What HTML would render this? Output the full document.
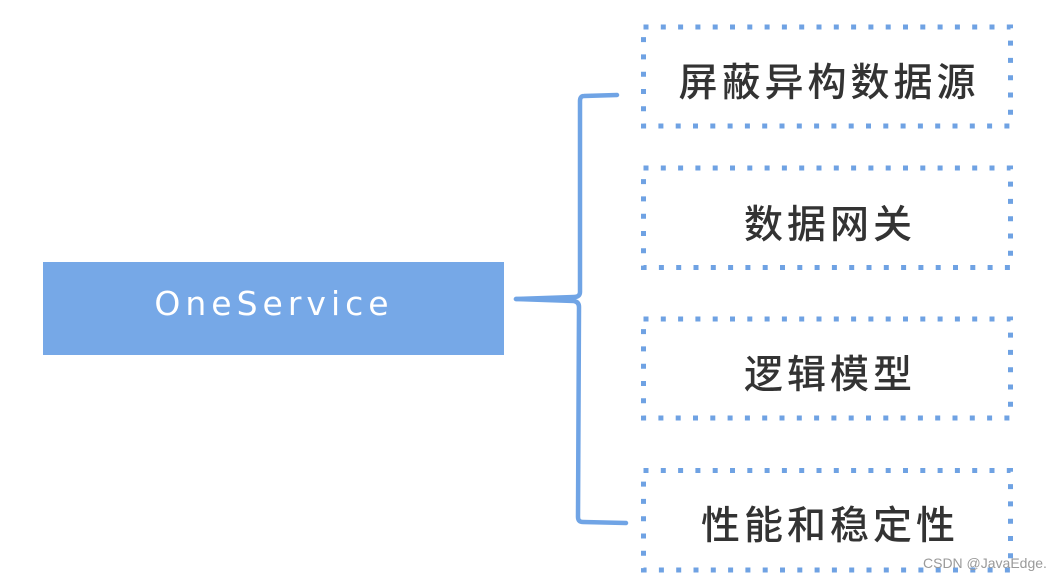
<!DOCTYPE html>
<html>
<head>
<meta charset="utf-8">
<style>
  html,body{margin:0;padding:0;background:#fff;}
  body{width:1057px;height:580px;overflow:hidden;}
  svg{display:block;}
  .cn{font-family:"Liberation Sans","Noto Sans CJK SC",sans-serif;font-size:39px;font-weight:500;fill:#333;letter-spacing:4px;}
</style>
</head>
<body>
<svg width="1057" height="580" viewBox="0 0 1057 580" xmlns="http://www.w3.org/2000/svg">
  <rect x="0" y="0" width="1057" height="580" fill="#ffffff"/>

  <!-- main blue box -->
  <rect x="43" y="262" width="461" height="93" fill="#76a8e7"/>
  <text x="274" y="315" text-anchor="middle" font-family="'DejaVu Sans','Liberation Sans',sans-serif" font-size="33" fill="#ffffff" letter-spacing="5">OneService</text>

  <!-- connectors -->
  <g fill="none" stroke="#70a4e5" stroke-width="4.5" stroke-linecap="round" stroke-linejoin="round">
    <path d="M617,95 L584,96 Q580,96 580,101 L580,292 Q580,297 574,297 L516,299"/>
    <path d="M516,299 L574,301 Q579,302 579,307 L578,517 Q578,522 583,522 L626,523"/>
  </g>

  <!-- dotted boxes -->
  <g fill="none" stroke="#6fa2e3" stroke-width="5" stroke-dasharray="5 12.3">
    <rect x="643.5" y="27" width="367" height="99"/>
    <rect x="643.5" y="168" width="367" height="99.5"/>
    <rect x="643.5" y="319" width="367" height="99"/>
    <rect x="643.5" y="470.5" width="367" height="99.5"/>
  </g>

  <!-- labels -->
  <text class="cn" x="829" y="96" text-anchor="middle">屏蔽异构数据源</text>
  <text class="cn" x="830" y="238" text-anchor="middle">数据网关</text>
  <text class="cn" x="830" y="388" text-anchor="middle">逻辑模型</text>
  <text class="cn" x="830" y="539" text-anchor="middle">性能和稳定性</text>

  <!-- watermark -->
  <text x="923" y="568" font-family="'Liberation Sans',sans-serif" font-size="14" fill="#9a9a9a">CSDN @JavaEdge.</text>
</svg>
</body>
</html>
